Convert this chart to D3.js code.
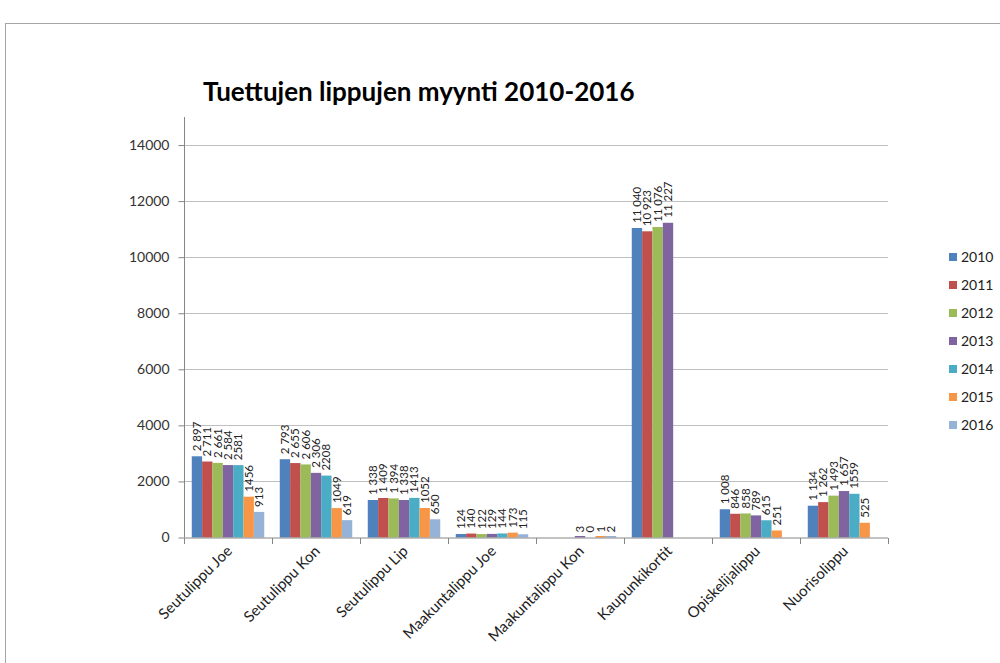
<!DOCTYPE html>
<html>
<head>
<meta charset="utf-8">
<script src="https://cdn.jsdelivr.net/npm/d3@7"></script>
<style>
  body { margin: 0; background: #fff; }
  svg { display: block; font-family: Lato, "Open Sans", sans-serif; }
</style>
</head>
<body>
<div id="chart"></div>
<script>
const categories = ["Seutulippu Joe", "Seutulippu Kon", "Seutulippu Lip", "Maakuntalippu Joe",
                    "Maakuntalippu Kon", "Kaupunkikortit", "Opiskelijalippu", "Nuorisolippu"];
const years = ["2010", "2011", "2012", "2013", "2014", "2015", "2016"];
const colors = ["#4F81BD", "#C0504D", "#9BBB59", "#8064A2", "#4BACC6", "#F79646", "#95B3D7"];

// one array per year, in category order (null = no bar)
const v2010 = [2897, 2793, 1338, 124, null, 11040, 1008, 1134];
const v2011 = [2711, 2655, 1409, 140, null, 10923, 846, 1262];
const v2012 = [2661, 2606, 1394, 122, null, 11076, 858, 1493];
const v2013 = [2584, 2306, 1338, 129, 3, 11227, 789, 1657];
const v2014 = [2581, 2208, 1413, 144, 0, null, 615, 1559];
const v2015 = [1456, 1049, 1052, 173, 1, null, 251, 525];
const v2016 = [913, 619, 650, 115, 2, null, null, null];
const series = [v2010, v2011, v2012, v2013, v2014, v2015, v2016];

// the source formats the first four years with a thousands space, the rest plain
const spacedLabels = [true, true, true, true, false, false, false];

const yTicks = [0, 2000, 4000, 6000, 8000, 10000, 12000, 14000];

const width = 1000, height = 663;
const plotLeft = 184, plotRight = 888, plotTop = 117, plotBottom = 537.5;

const svg = d3.select("#chart").append("svg")
    .attr("width", width)
    .attr("height", height);

// outer chart frame
svg.append("rect")
    .attr("x", 5.5).attr("y", 23.5)
    .attr("width", 1000).attr("height", 700)
    .attr("fill", "none")
    .attr("stroke", "#a6a6a6");

svg.append("text")
    .attr("x", 203).attr("y", 101)
    .attr("font-size", 26)
    .attr("font-weight", "bold")
    .attr("fill", "#000")
    .text("Tuettujen lippujen myynti 2010-2016");

const x0 = d3.scaleBand().domain(categories).range([plotLeft, plotRight]).paddingInner(0).paddingOuter(0);
const x1 = d3.scaleBand().domain(years).range([0, x0.bandwidth()]).paddingOuter(0.75).paddingInner(0);
const y = d3.scaleLinear().domain([0, 15000]).range([plotBottom, plotTop]);

// gridlines
svg.append("g")
    .selectAll("line")
    .data(yTicks.filter(d => d > 0))
    .join("line")
    .attr("x1", plotLeft).attr("x2", plotRight)
    .attr("y1", d => Math.round(y(d)) + 0.5).attr("y2", d => Math.round(y(d)) + 0.5)
    .attr("stroke", "#bfbfbf");

// y axis
const yAxis = svg.append("g")
    .attr("transform", `translate(${plotLeft + 0.5},0)`)
    .call(d3.axisLeft(y).tickValues(yTicks).tickSize(6).tickPadding(9).tickFormat(d3.format("d")));
yAxis.select(".domain").attr("stroke", "#868686").attr("d", `M0,${y(15000)}V${plotBottom}`);
yAxis.selectAll(".tick line").attr("stroke", "#868686");
yAxis.selectAll("text").attr("font-size", 14).attr("fill", "#333").attr("font-family", "Lato, sans-serif");

// bars
const groups = svg.append("g")
    .selectAll("g")
    .data(categories)
    .join("g")
    .attr("transform", d => `translate(${x0(d)},0)`);

groups.each(function(cat, ci) {
    const g = d3.select(this);
    years.forEach((yr, si) => {
        const v = series[si][ci];
        if (v === null) return;
        const h = Math.max(plotBottom - y(v), v > 0 ? 1.5 : 0);
        g.append("rect")
            .attr("x", x1(yr))
            .attr("y", plotBottom - h)
            .attr("width", x1.bandwidth())
            .attr("height", h)
            .attr("fill", colors[si]);
        const fmt = spacedLabels[si] ? d3.format(",d")(v).replace(/,/g, " ") : String(v);
        const lx = x1(yr) + x1.bandwidth() / 2;
        const ly = y(v) - 5;
        g.append("text")
            .attr("transform", `translate(${lx},${ly}) rotate(-90)`)
            .attr("dy", "0.35em")
            .attr("font-size", 11.5)
            .attr("fill", "#222")
            .text(fmt);
    });
});

// x axis
const xAxis = svg.append("g")
    .attr("transform", `translate(0,${plotBottom + 0.5})`);
xAxis.append("line")
    .attr("x1", plotLeft).attr("x2", plotRight)
    .attr("stroke", "#868686");
xAxis.selectAll("line.tk")
    .data(d3.range(categories.length + 1))
    .join("line")
    .attr("class", "tk")
    .attr("x1", i => Math.round(plotLeft + i * x0.step()) + 0.5)
    .attr("x2", i => Math.round(plotLeft + i * x0.step()) + 0.5)
    .attr("y1", 0).attr("y2", 6)
    .attr("stroke", "#868686");
xAxis.selectAll("text")
    .data(categories)
    .join("text")
    .attr("transform", d => `translate(${x0(d) + x0.bandwidth() / 2 + 5},${14}) rotate(-45)`)
    .attr("text-anchor", "end")
    .attr("font-size", 15)
    .attr("fill", "#222")
    .text(d => d);

// legend
const legend = svg.append("g")
    .selectAll("g")
    .data(years)
    .join("g")
    .attr("transform", (d, i) => `translate(949,${257 + i * 28})`);
legend.append("rect")
    .attr("x", 0).attr("y", -4)
    .attr("width", 8).attr("height", 8)
    .attr("fill", (d, i) => colors[i]);
legend.append("text")
    .attr("x", 12).attr("dy", "0.35em")
    .attr("font-size", 14)
    .attr("fill", "#222")
    .text(d => d);
</script>
</body>
</html>
